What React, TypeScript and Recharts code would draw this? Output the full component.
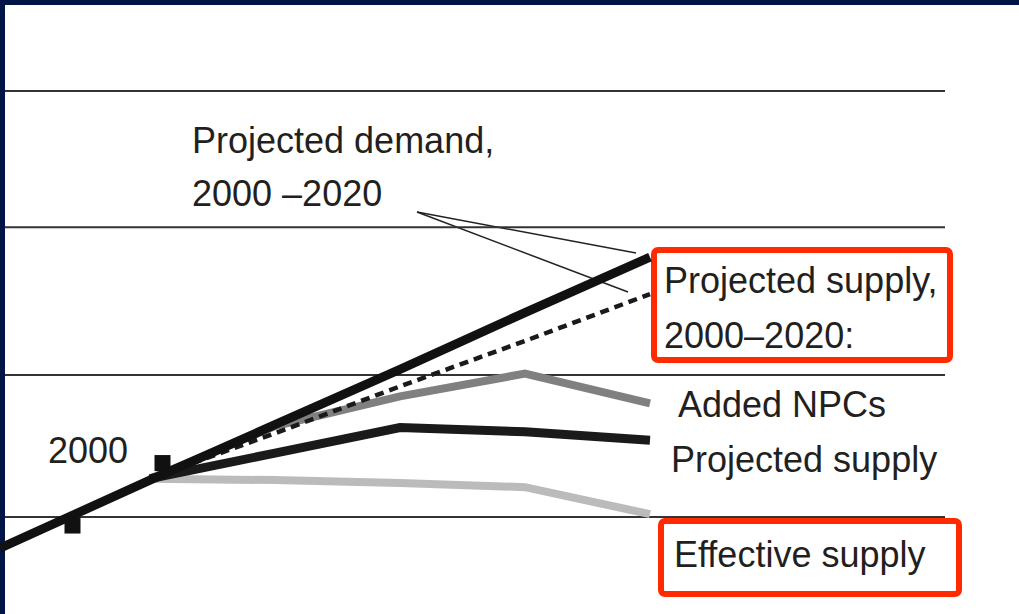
import React from "react";
import {
  LineChart,
  Line,
  XAxis,
  YAxis,
  ReferenceLine,
  Scatter,
  Customized,
} from "recharts";

// years along the (hidden) x axis
const years = [1994, 2000, 2005, 2010, 2015, 2020];

// values (arbitrary units)
const demand = [7.8, 12.6, 16.5, 20.4, 24.4, 28.3];
const supplyTotal = [null, 12.7, 15.9, 19.2, 22.4, 25.7];
const addedNPCs = [null, 12.7, 16.4, 18.5, 20.1, 18.0];
const projectedSupply = [null, 12.7, 14.5, 16.3, 16.0, 15.4];
const effectiveSupply = [null, 12.7, 12.6, 12.4, 12.1, 10.2];

const gridValues = [10, 20, 30.4, 40];

// small square tick marks on the demand line
const tickMarks = [
  { year: 1996.9, value: 9.4 },
  { year: 2000.5, value: 13.8 },
];

const data = years.map((y, i) => ({
  year: y,
  demand: demand[i],
  supplyTotal: supplyTotal[i],
  addedNPCs: addedNPCs[i],
  projectedSupply: projectedSupply[i],
  effectiveSupply: effectiveSupply[i],
}));

const W = 1019;
const H = 614;
const textColor = "#231f20";
const font = "'Liberation Sans', Arial, sans-serif";

function SquareMark(props: any) {
  const { cx, cy } = props;
  return <rect x={cx - 8} y={cy - 8} width={16} height={16} fill="#111" />;
}

function Overlay() {
  const t = { fontFamily: font, fontSize: 36, fill: textColor };
  return (
    <g>
      {/* leader lines from the demand label */}
      <line x1={417} y1={212} x2={636} y2={253} stroke="#222" strokeWidth={1.5} />
      <line x1={417} y1={212} x2={628} y2={292} stroke="#222" strokeWidth={1.5} />

      <text x={192} y={153} {...t}>Projected demand,</text>
      <text x={192} y={206} {...t}>2000 –2020</text>
      <text x={48} y={463} {...t}>2000</text>
      <text x={664} y={293} {...t}>Projected supply,</text>
      <text x={664} y={348} {...t}>2000–2020:</text>
      <text x={678} y={417} {...t}>Added NPCs</text>
      <text x={671} y={472} {...t}>Projected supply</text>
      <text x={674} y={567} {...t}>Effective supply</text>

      {/* red highlight boxes */}
      <rect x={654} y={250} width={296} height={110} rx={4} fill="none" stroke="#ff2a00" strokeWidth={6} />
      <rect x={661} y={521} width={298} height={73} rx={4} fill="none" stroke="#ff2a00" strokeWidth={6} />

      {/* navy frame */}
      <rect x={0} y={0} width={W} height={5} fill="#001446" />
      <rect x={0} y={0} width={5} height={H} fill="#001446" />
    </g>
  );
}

export default function App() {
  return (
    <div
      style={{
        position: "absolute",
        top: 0,
        left: 0,
        width: W,
        height: H,
        background: "#fff",
      }}
    >
      <LineChart
        width={W}
        height={H}
        data={data}
        margin={{ top: 0, right: 0, bottom: 0, left: 0 }}
      >
        <XAxis dataKey="year" type="number" domain={[1994, 2034.76]} hide />
        <YAxis type="number" domain={[3.17, 46.41]} hide />

        {gridValues.map((v) => (
          <ReferenceLine
            key={v}
            segment={[
              { x: 1994.2, y: v },
              { x: 2031.8, y: v },
            ]}
            stroke="#333"
            strokeWidth={2}
          />
        ))}

        <Line
          dataKey="effectiveSupply"
          stroke="#bbbbbb"
          strokeWidth={8}
          dot={false}
          activeDot={false}
          isAnimationActive={false}
        />
        <Line
          dataKey="addedNPCs"
          stroke="#808080"
          strokeWidth={8}
          dot={false}
          activeDot={false}
          isAnimationActive={false}
        />
        <Line
          dataKey="projectedSupply"
          stroke="#1a1a1a"
          strokeWidth={9}
          dot={false}
          activeDot={false}
          isAnimationActive={false}
        />
        <Line
          dataKey="supplyTotal"
          stroke="#1a1a1a"
          strokeWidth={4.5}
          strokeDasharray="9 6"
          dot={false}
          activeDot={false}
          isAnimationActive={false}
        />
        <Line
          dataKey="demand"
          stroke="#111"
          strokeWidth={9}
          dot={false}
          activeDot={false}
          isAnimationActive={false}
        />
        <Scatter
          data={tickMarks}
          dataKey="value"
          shape={<SquareMark />}
          isAnimationActive={false}
        />
        <Customized component={<Overlay />} />
      </LineChart>
    </div>
  );
}
